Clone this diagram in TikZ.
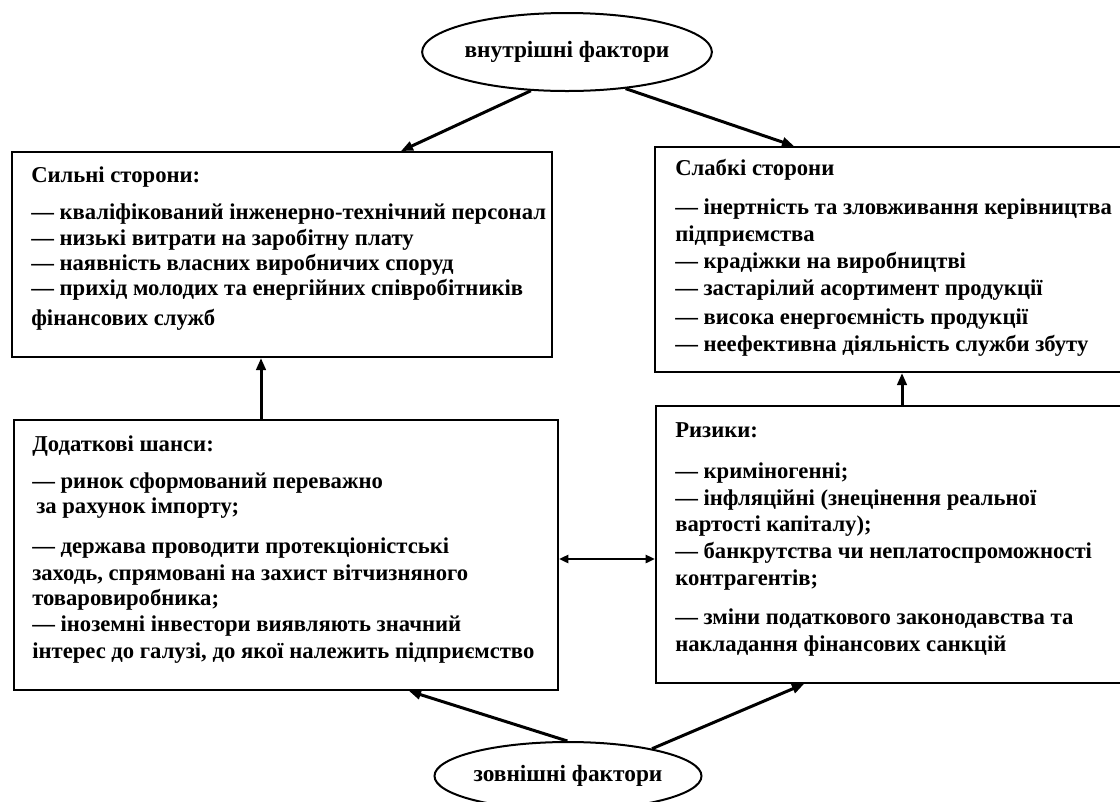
\documentclass[tikz,border=0pt]{standalone}
\usepackage{fontspec}
\setmainfont{Liberation Serif}
\usetikzlibrary{arrows.meta,calc,shapes.geometric}
\begin{document}
\begin{tikzpicture}[x=0.75pt,y=-0.75pt,
  box/.style={draw,line width=1.5pt,rectangle,inner sep=0pt},
  oval/.style={draw,line width=1.5pt,ellipse,inner sep=0pt,font=\bfseries\fontsize{17.5}{20}\selectfont},
  txt/.style={anchor=north west,inner sep=0pt,align=left,font=\bfseries\fontsize{17}{18.75}\selectfont},
  arr/.style={line width=2.25pt,-{Triangle[length=9pt,width=7pt]}},
  dbl/.style={line width=1.8pt,{Triangle[length=7pt,width=6pt]}-{Triangle[length=7pt,width=6pt]}}]
\useasboundingbox (0,0) rectangle (1120,801);

\node[oval,minimum width=213pt,minimum height=58.5pt] (IN) at (567,52) {внутрішні фактори};
\node[oval,minimum width=199.5pt,minimum height=51pt] (EX) at (568,776) {зовнішні фактори};

\node[box,minimum width=405pt,minimum height=153.75pt] (S) at (282,254.5) {};
\node[box,minimum width=351.75pt,minimum height=168.75pt] (W) at (889.5,259.5) {};
\node[box,minimum width=408pt,minimum height=202.5pt] (O) at (286,555) {};
\node[box,minimum width=351pt,minimum height=207.75pt] (T) at (890,544.5) {};

\node[txt] (St) at ($(S.north west)+(20,13.5)$) {\strut Сильні сторони:\\[9pt]
— кваліфікований інженерно-технічний персонал\\[0.75pt]
— низькі витрати на заробітну плату\\
— наявність власних виробничих споруд\\
— прихід молодих та енергійних співробітників\\[3.75pt]
фінансових служб};

\node[txt] (Wt) at ($(W.north west)+(21,12)$) {\strut Слабкі сторони\\[10.5pt]
— інертність та зловживання керівництва\\[1pt]
підприємства\\[1.5pt]
— крадіжки на виробництві\\[1.5pt]
— застарілий асортимент продукції\\[3pt]
— висока енергоємність продукції\\[1.5pt]
— неефективна діяльність служби збуту};

\node[txt] (Ot) at ($(O.north west)+(19,15)$) {\strut Додаткові шанси:\\[9pt]
— ринок сформований переважно\\
\hspace{3pt}за рахунок імпорту;\\[11pt]
— держава проводити протекціоністські\\[1.25pt]
заходь, спрямовані на захист вітчизняного\\
товаровиробника;\\[0.75pt]
— іноземні інвестори виявляють значний\\[2pt]
інтерес до галузі, до якої належить підприємство};

\node[txt] (Tt) at ($(T.north west)+(20,15)$) {\strut Ризики:\\[11.5pt]
— криміногенні;\\[1.5pt]
— інфляційні (знецінення реальної\\[0.75pt]
вартості капіталу);\\[2pt]
— банкрутства чи неплатоспроможності\\[1.5pt]
контрагентів;\\[10pt]
— зміни податкового законодавства та\\[2pt]
накладання фінансових санкцій};

\draw[arr] (IN.227) -- ($(S.north west)+(390,0)$);
\draw[arr] (IN.-32) -- ($(W.north west)+(140,0)$);
\draw[arr] ($(O.north west)+(248,0)$) -- ($(S.south west)+(250,0)$);
\draw[arr] ($(T.north west)+(247,0)$) -- ($(W.south west)+(248,0)$);
\coordinate (m) at ($(O.north east)+(0,140)$);
\draw[dbl] (m) -- (m -| T.west);
\draw[arr] (EX.91) -- ($(O.south west)+(396,0)$);
\draw[arr] (EX.18) -- ($(T.south west)+(149,0)$);
\end{tikzpicture}
\end{document}
